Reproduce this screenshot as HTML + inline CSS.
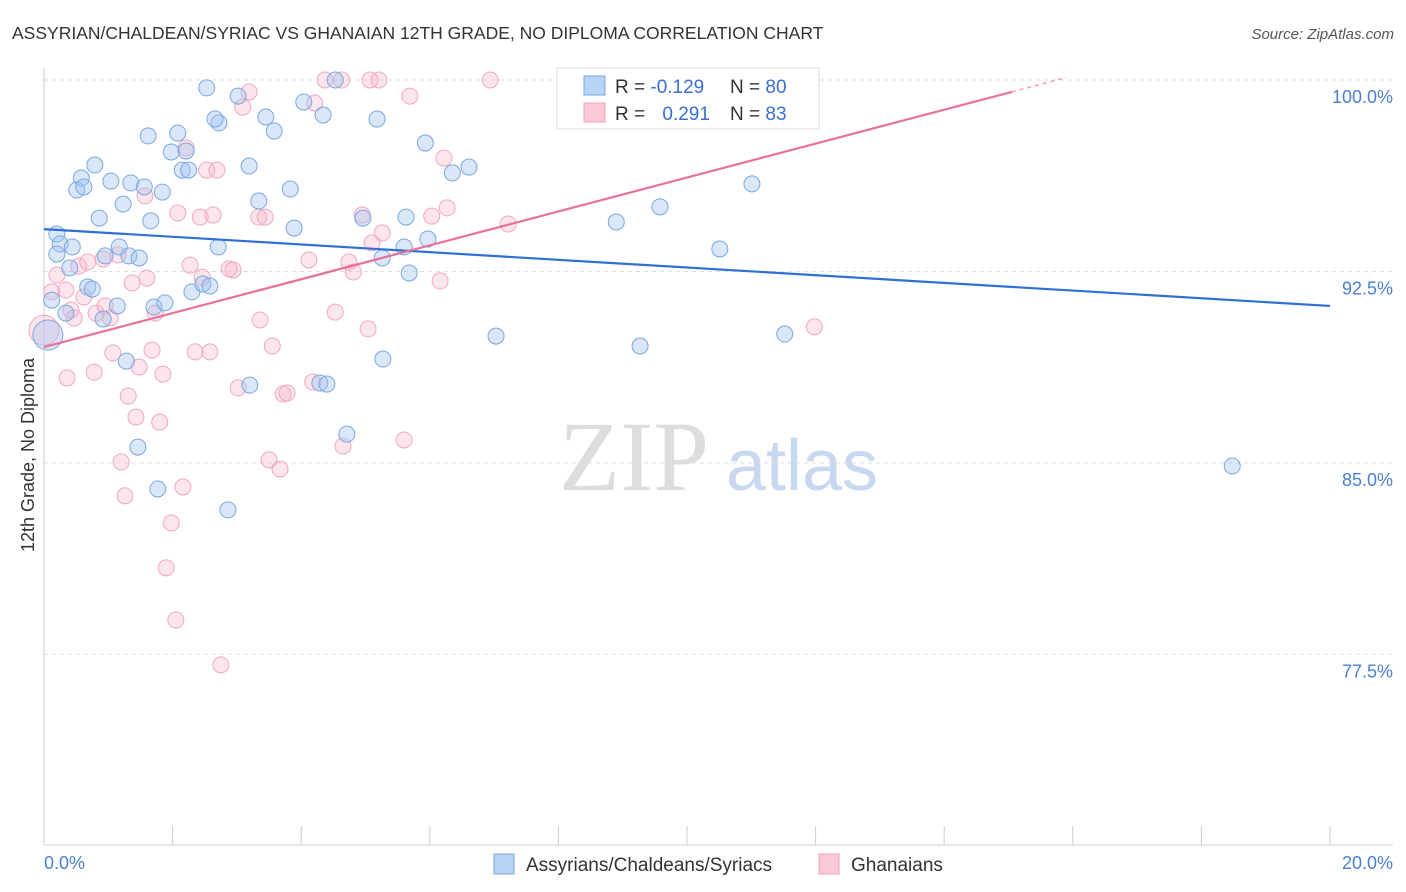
<!DOCTYPE html>
<html><head><meta charset="utf-8"><style>
body{margin:0;background:#fff;font-family:"Liberation Sans",sans-serif}
svg{display:block}
</style></head><body>
<svg id="c" width="1406" height="892" xmlns="http://www.w3.org/2000/svg">
<text x="12" y="39" font-size="17.5" fill="#333">ASSYRIAN/CHALDEAN/SYRIAC VS GHANAIAN 12TH GRADE, NO DIPLOMA CORRELATION CHART</text>
<text x="1394" y="39" font-size="15" fill="#555" font-style="italic" text-anchor="end">Source: ZipAtlas.com</text>
<text x="634" y="490" font-size="100" fill="#ddd" font-family="Liberation Serif,serif" text-anchor="middle">ZIP</text>
<text x="802" y="490" font-size="72" fill="#c8d8f0" text-anchor="middle">atlas</text>
<text transform="translate(34,455) rotate(-90)" font-size="18" fill="#333" text-anchor="middle">12th Grade, No Diploma</text>
<g id="grid"></g><g id="pts"></g><g id="lines"></g>
<g>
<rect x="557" y="68" width="262" height="61" fill="#fff" stroke="#ddd"/>
<rect x="584" y="76" width="21" height="19" fill="#b8d3f5" stroke="#7aa7e0"/>
<rect x="584" y="103" width="21" height="19" fill="#fbc8d6" stroke="#f0a0b8"/>
<text x="615" y="93" font-size="19" fill="#333">R = <tspan fill="#3a6fd0">-0.129</tspan></text>
<text x="730" y="93" font-size="19" fill="#333">N = <tspan fill="#3a6fd0">80</tspan></text>
<text x="615" y="120" font-size="19" fill="#333">R = <tspan fill="#3a6fd0" dx="12">0.291</tspan></text>
<text x="730" y="120" font-size="19" fill="#333">N = <tspan fill="#3a6fd0">83</tspan></text>
</g>
<rect x="494" y="854" width="20" height="20" fill="#b8d3f5" stroke="#7aa7e0"/>
<text x="526" y="871" font-size="19" fill="#333">Assyrians/Chaldeans/Syriacs</text>
<rect x="819" y="854" width="20" height="20" fill="#fbc8d6" stroke="#f0a0b8"/>
<text x="851" y="871" font-size="19" fill="#333">Ghanaians</text>
</svg>
<script>
const yTicks=[100,92.5,85,77.5];
const yTickLabels=["100.0%","92.5%","85.0%","77.5%"];
const xTickLabels=["0.0%","20.0%"];
const blueX=[2.53,3.02,4.53,4.04,5.18,3.45,4.34,2.72,2.66,3.58,2.08,1.62,1.98,2.21,5.93,6.35,6.61,3.19,2.15,2.25,0.79,0.58,0.51,0.62,1.04,1.35,1.56,1.84,1.23,3.83,3.34,0.86,1.66,5.63,4.96,3.89,0.20,0.25,0.44,0.20,0.95,1.17,1.32,1.48,2.71,5.60,5.97,5.26,5.68,0.40,0.68,0.75,1.14,1.71,1.88,2.30,2.47,2.58,0.12,0.34,0.92,1.28,3.20,4.29,4.40,4.71,5.27,7.03,9.27,11.52,8.90,9.58,10.51,11.01,1.46,1.77,2.86,18.48,0.06];
const blueY=[99.69,99.37,100.0,99.14,98.47,98.55,98.63,98.32,98.47,98.00,97.92,97.81,97.18,97.22,97.53,96.36,96.59,96.63,96.47,96.47,96.67,96.16,95.69,95.81,96.04,95.97,95.81,95.61,95.14,95.73,95.26,94.59,94.48,94.63,94.59,94.20,93.97,93.58,93.46,93.18,93.11,93.46,93.11,93.03,93.46,93.46,93.77,93.03,92.44,92.64,91.89,91.81,91.15,91.11,91.27,91.70,92.01,91.93,91.38,90.87,90.64,88.99,88.05,88.13,88.09,86.13,89.07,89.97,89.58,90.05,94.44,95.03,93.38,95.93,85.62,83.98,83.16,84.88,90.01];
const pinkX=[4.37,4.63,5.07,5.21,6.94,3.19,5.69,4.21,3.09,2.21,6.22,2.53,2.69,1.57,2.08,2.43,2.63,3.34,3.44,4.95,6.27,6.03,7.22,5.26,5.10,0.20,0.54,0.68,0.92,1.15,1.60,1.37,2.27,2.46,2.88,2.94,4.12,4.74,4.81,6.16,0.12,0.34,0.62,0.42,0.47,0.81,0.95,1.03,1.73,3.36,4.53,5.04,11.98,1.07,1.68,2.35,2.58,3.55,0.36,0.78,1.48,1.85,3.02,3.72,3.78,4.18,1.31,1.43,1.80,1.20,3.50,3.67,4.65,5.60,1.26,2.16,1.98,1.90,2.05,2.75,0.0];
const pinkY=[100,100,100,100,100,99.53,99.37,99.10,98.94,97.34,96.94,96.47,96.47,95.46,94.79,94.63,94.71,94.63,94.63,94.71,94.99,94.67,94.36,94.01,93.62,92.36,92.71,92.87,92.99,93.15,92.24,92.05,92.75,92.28,92.60,92.56,92.95,92.87,92.48,92.13,91.70,91.77,91.50,90.99,90.68,90.87,91.15,90.68,90.87,90.60,90.91,90.25,90.33,89.31,89.42,89.35,89.35,89.58,88.33,88.56,88.76,88.48,87.94,87.70,87.74,88.17,87.62,86.80,86.60,85.04,85.12,84.76,85.66,85.90,83.71,84.06,82.65,80.89,78.85,77.09,90.2];
const blueFit=[94.16,-0.1505];
const pinkFit=[89.54,0.664];
const X=v=>44+v*64.3, Y=v=>80+(100-v)*25.53;
const NS="http://www.w3.org/2000/svg";
function mk(t,a,p){const e=document.createElementNS(NS,t);for(const k in a)e.setAttribute(k,a[k]);p.appendChild(e);return e;}
const grid=document.getElementById('grid');
yTicks.forEach((v,i)=>{
 const l=mk('line',{x1:44,x2:1393,y1:Y(v),y2:Y(v),stroke:'#ddd','stroke-dasharray':'4,4'},grid);
 
 
 const t=mk('text',{x:1393,y:Y(v)+23,'font-size':18,fill:'#4a7fd4','text-anchor':'end'},grid);t.textContent=yTickLabels[i];
 
 
});
const ax=mk('line',{x1:44,x2:1393,y1:845,y2:845,stroke:'#ccc'},grid);


const ay=mk('line',{x1:44,x2:44,y1:68,y2:845,stroke:'#ccc'},grid);


for(let i=0;i<=10;i++){const tk=mk('line',{x1:X(i*2),x2:X(i*2),y1:826,y2:845,stroke:'#ccc'},grid);
 
 }
const t0=mk('text',{x:44,y:869,'font-size':18,fill:'#4a7fd4'},grid);t0.textContent=xTickLabels[0];


const t1=mk('text',{x:1393,y:869,'font-size':18,fill:'#4a7fd4','text-anchor':'end'},grid);t1.textContent=xTickLabels[1];


const pts=document.getElementById('pts');
function dots(xs,ys,fill,stroke,name){xs.forEach((x,i)=>{const big=(i===xs.length-1);
 const c=mk('circle',{cx:X(x),cy:Y(ys[i]),r:big?15:8,fill:fill,stroke:stroke,'stroke-width':1},pts);
 
 });}
dots(pinkX,pinkY,'rgba(248,180,200,0.35)','#f0a8bf','ghanaian-point');
dots(blueX,blueY,'rgba(160,196,240,0.4)','#7aa7e0','assyrian-point');
const lines=document.getElementById('lines');
const bl=mk('line',{x1:X(0),y1:Y(blueFit[0]),x2:X(20),y2:Y(blueFit[0]+blueFit[1]*20),stroke:'#2f6fd6','stroke-width':2.2},lines);


const xe=15.05, xd=(100.1-pinkFit[0])/pinkFit[1];
const pl=mk('line',{x1:X(0),y1:Y(pinkFit[0]),x2:X(xe),y2:Y(pinkFit[0]+pinkFit[1]*xe),stroke:'#e8709a','stroke-width':2.2},lines);


const pd=mk('line',{x1:X(xe),y1:Y(pinkFit[0]+pinkFit[1]*xe),x2:X(xd),y2:Y(100.1),stroke:'#f0a0b8','stroke-width':1.5,'stroke-dasharray':'4,4'},lines);


</script>
</body></html>
